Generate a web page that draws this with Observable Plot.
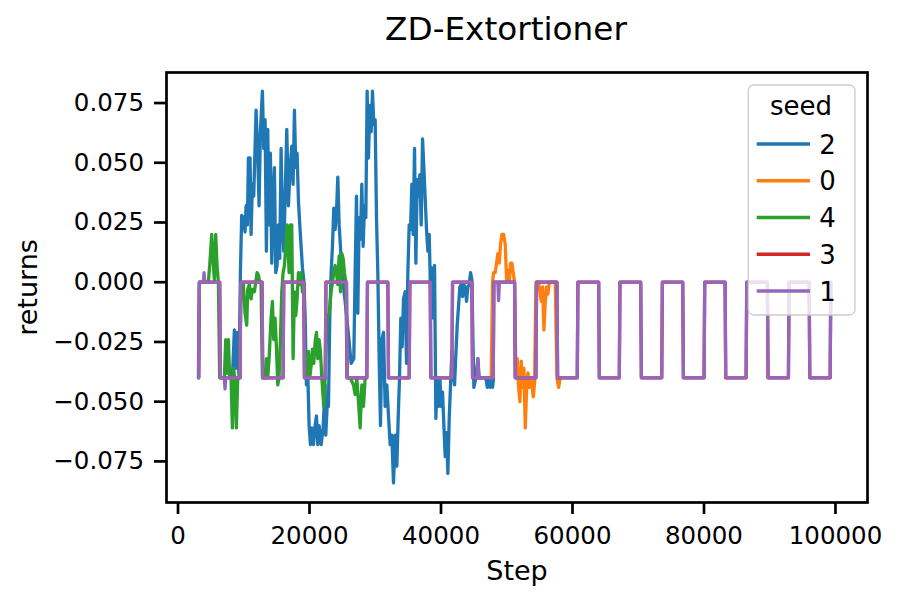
<!DOCTYPE html>
<html>
<head>
<meta charset="utf-8">
<script src="https://cdn.jsdelivr.net/npm/d3@7"></script>
<script src="https://cdn.jsdelivr.net/npm/@observablehq/plot@0.6"></script>
<style>
  html, body { margin: 0; padding: 0; background: white; overflow: hidden; }
  #wrap { position: relative; width: 900px; }
  #title { position: relative; height: 60px; }
  #title div { position: absolute; left: 306px; width: 400px; top: 10px; text-align: center;
    font-family: "DejaVu Sans"; font-size: 32.7px; line-height: 38px; color: black; }
</style>
</head>
<body>
<div id="wrap">
  <div id="title"><div>ZD-Extortioner</div></div>
  <div id="chart"></div>
</div>
<script>
const seedOrder = ["2", "0", "4", "3", "1"];
const seedColors = ["#1f77b4", "#ff7f0e", "#2ca02c", "#d62728", "#9467bd"];
const xTicks = [0, 20000, 40000, 60000, 80000, 100000];
const yTicks = [-0.075, -0.05, -0.025, 0, 0.025, 0.05, 0.075];

// seed 1 (purple): square wave with small deviations
const seed1 = [[3150,-0.04],[3250,0],[3850,0],[3957,0.004],[4060,0],[6343,0],[6443,-0.04],
  [7050,-0.04],[7154,-0.0446],[7260,-0.04],[9438,-0.04],[9538,0],[12786,0],[12886,-0.04],
  [15983,-0.04],[16083,0],[19129,0],[19229,-0.04],[22400,-0.04],[22500,0],[25622,0],[25722,-0.04],
  [28717,-0.04],[28817,0],[31914,0],[32014,-0.04],[35161,-0.04],[35261,0],[38358,0],[38458,-0.04],
  [41656,-0.04],[41756,0],[44698,0],[44798,-0.04],[45500,-0.04],[45610,-0.032],[45720,-0.04],
  [47945,-0.04],[48045,0],[48650,0],[48760,-0.0077],[48870,0],[51192,0],[51292,-0.04],
  [54440,-0.04],[54540,0],[57636,0],[57736,-0.04],[60726,-0.04],[60826,0],[63983,0],[64083,-0.04],
  [67119,-0.04],[67219,0],[70376,0],[70476,-0.04],[73572,-0.04],[73672,0],[76769,0],[76869,-0.04],
  [80011,-0.04],[80111,0],[83207,0],[83307,-0.04],[86404,-0.04],[86504,0],[89646,0],[89746,-0.04],
  [92842,-0.04],[92942,0],[95993,0],[96093,-0.04],[99189,-0.04],[99289,0]];

// seed 3 (red): hidden under seed 1
const seed3 = [[3150,-0.04],[3250,0],[6343,0],[6443,-0.04],[9438,-0.04],[9538,0],[12786,0],[12886,-0.04],
  [15983,-0.04],[16083,0],[19129,0],[19229,-0.04],[22400,-0.04],[22500,0],[25622,0],[25722,-0.04],
  [28717,-0.04],[28817,0],[31914,0],[32014,-0.04],[35161,-0.04],[35261,0],[38358,0],[38458,-0.04],
  [41656,-0.04],[41756,0],[44698,0],[44798,-0.04],[47945,-0.04],[48045,0],[51192,0],[51292,-0.04],
  [54440,-0.04],[54540,0],[57636,0],[57736,-0.04],[60726,-0.04],[60826,0],[63983,0],[64083,-0.04],
  [67119,-0.04],[67219,0],[70376,0],[70476,-0.04],[73572,-0.04],[73672,0],[76769,0],[76869,-0.04],
  [80011,-0.04],[80111,0],[83207,0],[83307,-0.04],[86404,-0.04],[86504,0],[89646,0],[89746,-0.04],
  [92842,-0.04],[92942,0],[95993,0],[96093,-0.04],[99189,-0.04],[99289,0]];

// seed 2 (blue)
const seed2 = [[8270,-0.040],[8574,-0.020],[8777,-0.036],[8980,-0.021],[9285,-0.040],[9488,0.004],
  [9690,0.028],[9944,0.027],[10198,0.021],[10350,0.032],[10553,0.024],[10705,0.052],[10959,0.052],
  [11111,0.020],[11314,0.041],[11517,0.036],[11872,0.072],[12126,0.054],[12329,0.032],[12532,0.063],
  [12836,0.080],[13039,0.056],[13242,0.068],[13445,0.013],[13648,0.064],[13851,0.024],[14054,0.054],
  [14257,0.008],[14460,0.035],[14663,0.048],[14866,0.004],[15069,0.007],[15272,0.024],[15475,0.010],
  [15678,0.056],[15881,0.026],[16084,0.013],[16287,0.035],[16541,0.064],[16795,0.032],[17048,0.048],
  [17302,0.057],[17505,0.041],[17708,0.072],[17911,0.048],[18114,0.054],[18317,0.034],[18520,0.024],
  [18723,0.015],[18926,0.006],[19129,0.001],[19332,-0.014],[19534,-0.043],[19737,-0.038],[19940,-0.060],
  [20143,-0.068],[20346,-0.061],[20600,-0.068],[20854,-0.060],[21057,-0.056],[21260,-0.068],[21463,-0.060],
  [21767,-0.068],[22071,-0.061],[22376,-0.043],[22475,-0.064],[22681,-0.052],[22881,-0.052],[23084,-0.015],
  [23287,0.004],[23490,0.015],[23693,0.031],[23896,0.022],[24099,0.029],[24302,0.044],[24505,0.024],
  [24708,0.015],[24911,0.004],[25418,-0.008],[25926,-0.022],[26332,-0.034],[26738,-0.032],[26941,0.004],
  [27144,0.036],[27347,-0.013],[27549,0.027],[27752,0.018],[27955,0.041],[28158,0.015],[28361,0.032],
  [28564,0.027],[28767,0.080],[28970,0.052],[29173,0.074],[29376,0.063],[29579,0.080],[29782,0.066],
  [29985,0.068],[30188,0.027],[30391,0.004],[30594,-0.032],[30797,-0.060],[31000,-0.024],[31253,-0.021],
  [31507,-0.052],[31761,-0.043],[32015,-0.056],[32268,-0.068],[32522,-0.064],[32776,-0.084],[33030,-0.064],
  [33283,-0.077],[33486,-0.057],[33689,-0.040],[33892,-0.015],[34095,-0.027],[34298,-0.007],[34552,-0.004],
  [34755,-0.034],[34958,0.004],[35161,0.024],[35364,0.022],[35567,0.041],[35770,0.020],[35973,0.056],
  [36176,0.008],[36379,0.043],[36582,0.036],[36785,0.045],[36988,0.024],[37190,0.060],[37393,0.048],
  [37596,0.035],[37799,0.022],[38002,0.013],[38205,0.020],[38408,-0.004],[38611,0.006],[38814,-0.015],
  [39017,0.007],[39220,-0.057],[39423,-0.040],[39626,-0.052],[39829,-0.040],[40032,-0.052],[40235,-0.046],
  [40437,-0.060],[40640,-0.073],[40843,-0.063],[41046,-0.080],[41249,-0.057],[41452,-0.043],[41655,-0.029],
  [41858,-0.038],[42061,-0.043],[42264,-0.030],[42467,-0.018],[42667,-0.010],[42870,-0.002],[43073,-0.001],
  [43276,-0.006],[43479,-0.001],[43682,-0.002],[43885,-0.008],[44088,-0.002],[44291,-0.001],[44494,0.004],
  [44697,0.001],[44900,-0.030],[45001,-0.044],[45306,-0.040],[45610,-0.032],[45813,-0.040],[46219,-0.040],
  [46828,-0.040],[47031,-0.044],[47234,-0.040],[47437,-0.044],[47640,-0.040],[47843,-0.044],[47995,-0.040]];

// seed 4 (green)
const seed4 = [[3100,-0.040],[3250,0.000],[4617,0.000],[4820,0.007],[5124,0.020],[5378,0.007],[5530,0.001],
  [5733,0.020],[5936,0.007],[6139,0.000],[6342,-0.040],[7052,-0.040],[7255,-0.024],[7458,-0.038],
  [7661,-0.024],[7864,-0.040],[8067,-0.040],[8270,-0.061],[8473,-0.036],[8676,-0.043],[8879,-0.061],
  [9082,-0.040],[9386,-0.040],[9589,0.000],[9944,-0.001],[10198,-0.013],[10452,-0.018],[10604,-0.003],
  [10858,-0.001],[11111,-0.007],[11314,-0.003],[11618,-0.004],[11821,0.000],[12024,0.004],[12227,0.003],
  [12430,0.000],[12633,0.000],[12836,-0.040],[13242,-0.040],[13445,-0.032],[13648,-0.040],[13851,-0.032],
  [14156,-0.015],[14359,-0.008],[14562,-0.024],[14765,-0.015],[14968,-0.027],[15171,-0.043],[15373,-0.040],
  [15576,-0.024],[15779,-0.004],[15982,0.004],[16185,0.007],[16389,0.015],[16592,0.024],[16896,0.004],
  [17099,0.024],[17302,0.024],[17505,-0.032],[17708,-0.004],[17911,-0.014],[18114,-0.007],[18317,0.004],
  [18520,-0.001],[18723,0.004],[18926,-0.004],[19129,0.000],[19332,-0.040],[19636,-0.040],[19839,-0.029],
  [20042,-0.040],[20245,-0.035],[20448,-0.028],[20650,-0.034],[20854,-0.025],[21057,-0.021],[21260,-0.032],
  [21463,-0.024],[21666,-0.029],[21869,-0.040],[22173,-0.052],[22376,-0.040],[22678,-0.015],[22983,-0.013],
  [23287,-0.004],[23490,0.000],[23693,0.004],[23896,0.007],[24099,0.004],[24302,-0.001],[24505,0.011],
  [24708,-0.004],[24911,0.012],[25113,0.010],[25316,0.004],[25519,0.000],[25722,-0.040],[26180,-0.040],
  [26687,-0.043],[26941,-0.047],[27194,-0.040],[27448,-0.050],[27702,-0.061],[27955,-0.043],[28209,-0.052],
  [28463,-0.040],[28666,-0.040]];

// seed 0 (orange)
const seed0 = [[47640,-0.040],[47843,0.000],[47995,0.004],[48249,0.004],[48452,0.008],[48655,0.012],
  [48858,0.008],[49061,0.016],[49264,0.020],[49517,0.020],[49771,0.016],[49974,0.001],[50177,0.005],
  [50380,0.000],[50583,0.008],[50786,0.008],[50989,0.004],[51192,0.000],[51395,-0.040],[51598,-0.032],
  [51801,-0.044],[52004,-0.050],[52207,-0.033],[52410,-0.044],[52613,-0.036],[52816,-0.061],[53019,-0.045],
  [53222,-0.038],[53424,-0.044],[53627,-0.040],[53830,-0.043],[54033,-0.048],[54236,-0.042],[54439,0.000],
  [54845,0.000],[55048,-0.004],[55251,-0.008],[55454,-0.002],[55657,-0.020],[55860,-0.008],[56063,-0.002],
  [56266,-0.005],[56469,0.000],[57382,0.000],[57636,-0.040],[57890,-0.044],[58143,-0.040]];

const seriesBySeed = {"2": seed2, "0": seed0, "4": seed4, "3": seed3, "1": seed1};
const rows = seedOrder.flatMap(s => seriesBySeed[s].map(([step, r]) => ({seed: s, step, returns: r})));

const fmtY = d3.format(".3f");

const svg = Plot.plot({
  width: 900,
  height: 541,
  marginTop: 12,
  marginBottom: 99,
  marginLeft: 166,
  marginRight: 33,
  style: {fontFamily: "DejaVu Sans", fontSize: "24.5px", color: "black", background: "white", overflow: "visible"},
  x: {domain: [-1751, 104870]},
  y: {domain: [-0.0922, 0.08778]},
  color: {domain: seedOrder, range: seedColors},
  marks: [
    Plot.line(rows, {x: "step", y: "returns", z: "seed", stroke: "seed", strokeWidth: 3.3,
      strokeLinejoin: "round"}),
    Plot.frame({stroke: "black", strokeWidth: 2.7}),
    Plot.axisX({ticks: xTicks, tickSize: 12, tickPadding: 12, strokeWidth: 2.7,
      tickFormat: d => String(d), label: null, fontSize: 24.5}),
    Plot.axisY({ticks: yTicks, tickSize: 12, tickPadding: 10.5, strokeWidth: 2.7,
      tickFormat: d => fmtY(d), label: null, fontSize: 24.5}),
    Plot.text(["Step"], {frameAnchor: "bottom", dy: 77, text: d => d, fontSize: 27, textAnchor: "middle"}),
    Plot.text(["returns"], {frameAnchor: "left", dx: -138.5, text: d => d, rotate: -90, fontSize: 27, textAnchor: "middle"})
  ]
});

document.getElementById("chart").appendChild(svg);

// legend (inside the axes, upper right)
const lg = d3.select(svg).append("g").attr("font-family", "DejaVu Sans");
lg.append("rect").attr("x", 748.3).attr("y", 25).attr("width", 106.7).attr("height", 230)
  .attr("rx", 5.5).attr("fill", "white").attr("fill-opacity", 0.8)
  .attr("stroke", "#cccccc").attr("stroke-width", 1.3);
lg.append("text").attr("x", 801).attr("y", 55).attr("text-anchor", "middle")
  .attr("font-size", 26).attr("fill", "black").text("seed");
seedOrder.forEach((s, i) => {
  const y = 84 + i * 36.75;
  lg.append("line").attr("x1", 756.7).attr("x2", 810).attr("y1", y).attr("y2", y)
    .attr("stroke", seedColors[i]).attr("stroke-width", 3.3);
  lg.append("text").attr("x", 827.5).attr("y", y + 9.5).attr("font-size", 26)
    .attr("fill", "black").text(s);
});
</script>
</body>
</html>
